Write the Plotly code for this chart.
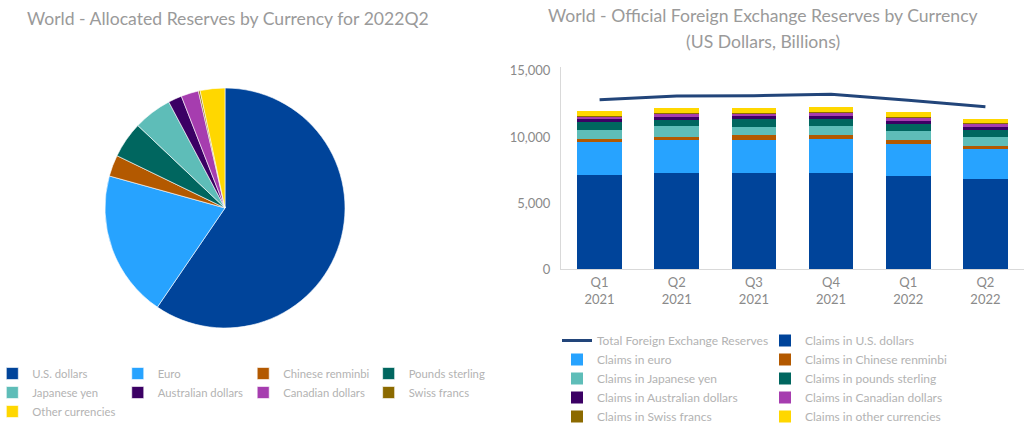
import plotly.graph_objects as go

# ---------------- data ----------------
pie_labels = ["U.S. dollars", "Euro", "Chinese renminbi", "Pounds sterling", "Japanese yen",
              "Australian dollars", "Canadian dollars", "Swiss francs", "Other currencies"]
pie_shares = [59.53, 19.77, 2.88, 4.88, 5.18, 1.84, 2.36, 0.23, 3.33]

quarters = ["Q1<br>2021", "Q2<br>2021", "Q3<br>2021", "Q4<br>2021", "Q1<br>2022", "Q2<br>2022"]
total_fx = [12830, 13110, 13130, 13240, 12780, 12300]
usd = [7110, 7260, 7260, 7260, 7040, 6810]
eur = [2480, 2480, 2500, 2580, 2430, 2250]
cny = [300, 300, 360, 280, 300, 300]
jpy = [650, 760, 650, 680, 660, 610]
gbp = [610, 500, 610, 580, 580, 580]
aud = [205, 205, 180, 230, 205, 230]
cad = [250, 280, 250, 260, 280, 280]
chf = [22, 22, 22, 22, 22, 22]
other = [340, 400, 380, 400, 400, 305]

bar_names = ["Claims in U.S. dollars", "Claims in euro", "Claims in Chinese renminbi",
             "Claims in Japanese yen", "Claims in pounds sterling", "Claims in Australian dollars",
             "Claims in Canadian dollars", "Claims in Swiss francs", "Claims in other currencies"]

title_left = "World - Allocated Reserves by Currency for 2022Q2"
title_right_1 = "World - Official Foreign Exchange Reserves by Currency"
title_right_2 = "(US Dollars, Billions)"

# ---------------- styles ----------------
C_USD, C_EUR, C_CNY, C_GBP, C_JPY = "#00449A", "#27A3FF", "#B35900", "#00665F", "#5EBDB8"
C_AUD, C_CAD, C_CHF, C_OTH = "#3B0064", "#A63DAF", "#8C6A00", "#FFD700"
C_LINE = "#22457A"
FONT = "Lato, 'Open Sans', sans-serif"
TITLE_FONT = dict(family="Lato, sans-serif", size=17.6, color="#9A9A9A")

fig = go.Figure()

fig.add_trace(go.Pie(
    labels=pie_labels, values=pie_shares, sort=False, direction="clockwise", rotation=0,
    textinfo="none", hoverinfo="label+percent",
    marker=dict(colors=[C_USD, C_EUR, C_CNY, C_GBP, C_JPY, C_AUD, C_CAD, C_CHF, C_OTH],
                line=dict(color="white", width=0.6)),
    domain=dict(x=[105/1024, 345/1024], y=[99/427, 339/427]),
    legend="legend",
))

fig.add_trace(go.Scatter(x=quarters, y=total_fx, mode="lines", name="Total Foreign Exchange Reserves",
                         line=dict(color=C_LINE, width=3), legend="legend2"))

series = [usd, eur, cny, jpy, gbp, aud, cad, chf, other]
colors = [C_USD, C_EUR, C_CNY, C_JPY, C_GBP, C_AUD, C_CAD, C_CHF, C_OTH]
legend_of = ["legend3", "legend2", "legend3", "legend2", "legend3", "legend2", "legend3", "legend2", "legend3"]
for vals, nm, col, lg in zip(series, bar_names, colors, legend_of):
    fig.add_trace(go.Bar(x=quarters, y=vals, name=nm, marker=dict(color=col, line=dict(width=0)),
                         legend=lg))

leg_font = dict(family=FONT, size=12, color="#B3B3B3")
fig.update_layout(
    width=1024, height=427,
    margin=dict(l=0, r=0, t=0, b=0, autoexpand=False),
    paper_bgcolor="white", plot_bgcolor="white",
    barmode="stack", bargap=0.42,
    font=dict(family=FONT, color="#8A8A8A"),
    xaxis=dict(domain=[561/1024, 1.0], showline=True, linecolor="#D9D9D9", linewidth=1,
               showgrid=False, zeroline=False, tickfont=dict(size=13, color="#8A8A8A"),
               ticks="", ticklabelstandoff=1),
    yaxis=dict(domain=[(427-269.3)/427, (427-66.7)/427], range=[0, 15320], showline=True,
               linecolor="#D9D9D9", linewidth=1, showgrid=False, zeroline=False,
               tickvals=[0, 5000, 10000, 15000], tickformat=",d", ticks="",
               tickfont=dict(size=13, color="#8A8A8A"), ticklabelstandoff=7),
    legend=dict(orientation="h", x=-0.0075, xanchor="left", y=(427-359)/427, yanchor="top",
                entrywidthmode="fraction", entrywidth=0.245,
                font=dict(family=FONT, size=11.3, color="#B3B3B3"),
                bgcolor="rgba(0,0,0,0)", traceorder="normal"),
    legend2=dict(orientation="v", x=557/1024, xanchor="left", y=(427-326)/427, yanchor="top",
                 font=leg_font, bgcolor="rgba(0,0,0,0)", traceorder="normal"),
    legend3=dict(orientation="v", x=765/1024, xanchor="left", y=(427-326)/427, yanchor="top",
                 font=leg_font, bgcolor="rgba(0,0,0,0)", traceorder="normal"),
    annotations=[
        dict(text=title_left, x=228/1024, y=(427-18)/427,
             xref="paper", yref="paper", xanchor="center", yanchor="middle", showarrow=False,
             font=TITLE_FONT),
        dict(text=title_right_1, x=763/1024, y=(427-15)/427, xref="paper", yref="paper",
             xanchor="center", yanchor="middle", showarrow=False, font=TITLE_FONT),
        dict(text=title_right_2, x=763/1024, y=(427-41)/427, xref="paper", yref="paper",
             xanchor="center", yanchor="middle", showarrow=False, font=TITLE_FONT),
    ],
)

fig.write_html("out.html", config={"displayModeBar": False},
               post_script="document.body.style.margin='0';")
